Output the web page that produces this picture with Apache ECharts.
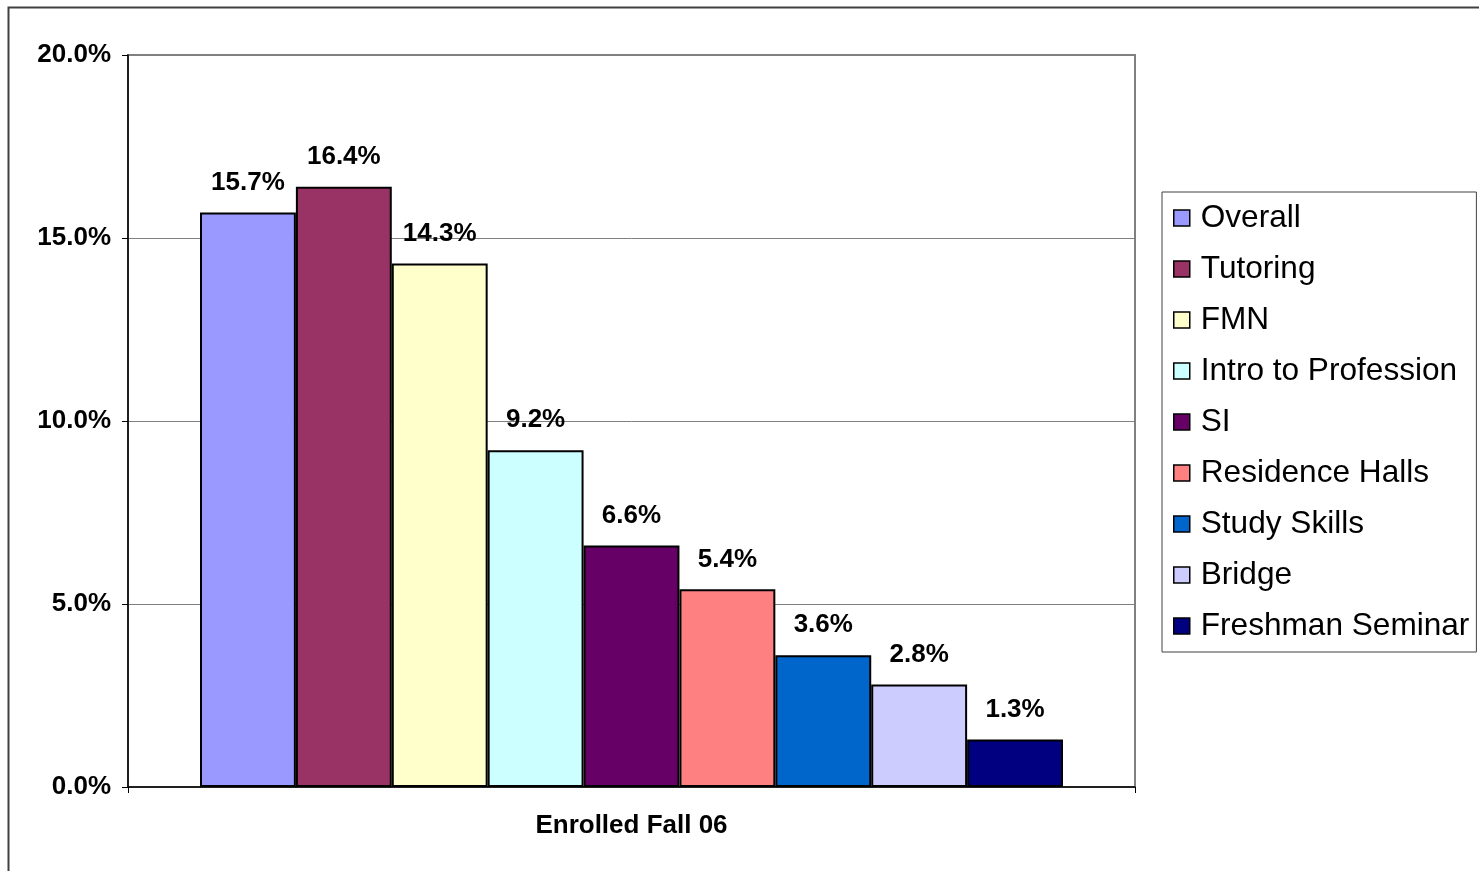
<!DOCTYPE html>
<html>
<head>
<meta charset="utf-8">
<script src="https://cdn.jsdelivr.net/npm/echarts@6/dist/echarts.min.js"></script>
<style>
  html, body { margin: 0; padding: 0; background: #fff; }
  #chart { width: 1479px; height: 871px; }
</style>
</head>
<body>
<div id="chart"></div>
<script>
  // data
  var categories = ['Enrolled Fall 06'];
  var seriesNames = ['Overall', 'Tutoring', 'FMN', 'Intro to Profession', 'SI',
    'Residence Halls', 'Study Skills', 'Bridge', 'Freshman Seminar'];
  var seriesValues = [15.7, 16.4, 14.3, 9.2, 6.6, 5.4, 3.6, 2.8, 1.3];
  var seriesColors = ['#9999FF', '#993366', '#FFFFCC', '#CCFFFF', '#660066',
    '#FF8080', '#0066CC', '#CCCCFF', '#000080'];
  var yTicks = [0, 5, 10, 15, 20];

  var font = 'Liberation Sans, Arial, sans-serif';
  var chart = echarts.init(document.getElementById('chart'));

  var series = seriesNames.map(function (name, i) {
    return {
      name: name,
      type: 'bar',
      data: [seriesValues[i]],
      barGap: '0%',
      barCategoryGap: '14.3%',
      itemStyle: {
        color: seriesColors[i],
        borderColor: '#000',
        borderWidth: 2
      },
      label: {
        show: true,
        position: 'top',
        distance: 17,
        color: '#000',
        fontFamily: font,
        fontWeight: 'bold',
        fontSize: 26,
        formatter: function (p) { return p.value.toFixed(1) + '%'; }
      }
    };
  });

  var option = {
    backgroundColor: '#fff',
    animation: false,
    graphic: [{
      type: 'rect',
      left: 6, top: 5,
      shape: { width: 1490, height: 890 },
      style: { fill: 'none', stroke: '#404040', lineWidth: 2 },
      silent: true
    }],
    grid: {
      left: 128, right: 344, top: 55, bottom: 84,
      show: true,
      borderColor: '#808080',
      borderWidth: 2
    },
    legend: {
      orient: 'vertical',
      left: 1162, top: 192,
      data: seriesNames,
      icon: 'rect',
      itemWidth: 16, itemHeight: 16,
      itemGap: 19,
      padding: [10, 7, 10, 11],
      borderColor: '#404040',
      borderWidth: 1,
      backgroundColor: '#fff',
      textStyle: {
        fontFamily: font,
        fontSize: 31.6,
        lineHeight: 32,
        color: '#000',
        padding: [0, 0, 0, 6]
      },
      itemStyle: { borderColor: '#000', borderWidth: 1.5 }
    },
    xAxis: {
      type: 'category',
      data: categories,
      axisLine: { lineStyle: { color: '#000', width: 1.5 } },
      axisTick: { show: true, length: 6, lineStyle: { color: '#000' } },
      axisLabel: {
        margin: 26,
        color: '#000',
        fontFamily: font,
        fontWeight: 'bold',
        fontSize: 26
      }
    },
    yAxis: {
      type: 'value',
      min: yTicks[0],
      max: yTicks[yTicks.length - 1],
      interval: 5,
      axisLine: { show: true, lineStyle: { color: '#000', width: 1.5 } },
      axisTick: { show: true, length: 6, lineStyle: { color: '#000' } },
      splitLine: { lineStyle: { color: '#808080', width: 1 } },
      axisLabel: {
        margin: 17,
        color: '#000',
        fontFamily: font,
        fontWeight: 'bold',
        fontSize: 26,
        formatter: function (v) { return v.toFixed(1) + '%'; }
      }
    },
    series: series
  };

  chart.setOption(option);
</script>
</body>
</html>
